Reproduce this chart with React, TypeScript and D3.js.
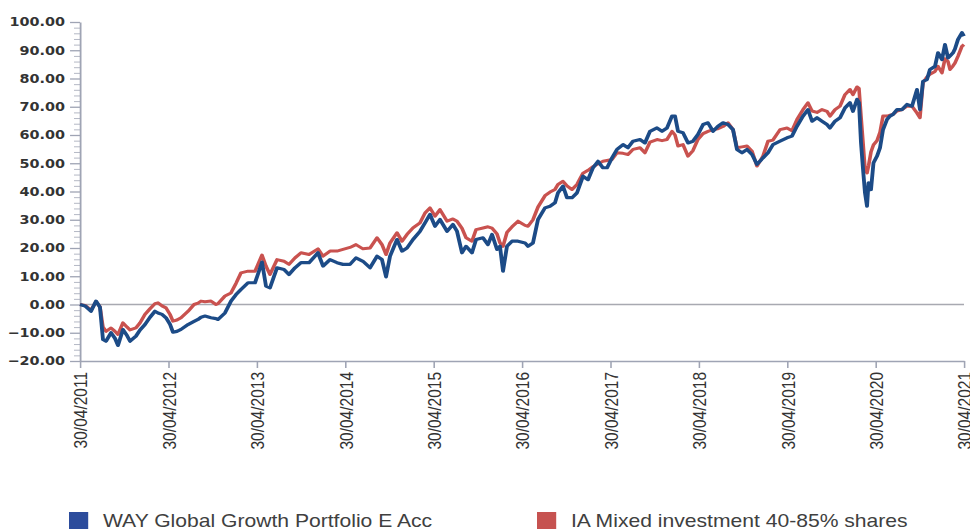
import React, { useEffect, useRef } from 'react';
import * as d3 from 'd3';

// dates as decimal years (30/04/2011 = 2011.33)
const dates = [
  2011.330, 2011.387, 2011.454, 2011.511, 2011.556, 2011.590, 2011.624, 2011.681, 2011.726, 2011.760,
  2011.816, 2011.862, 2011.896, 2011.963, 2012.009, 2012.065, 2012.122, 2012.178, 2012.212, 2012.258,
  2012.303, 2012.348, 2012.382, 2012.427, 2012.473, 2012.552, 2012.620, 2012.665, 2012.699, 2012.744,
  2012.812, 2012.869, 2012.891, 2012.970, 2013.038, 2013.095, 2013.151, 2013.231, 2013.310, 2013.389,
  2013.434, 2013.479, 2013.559, 2013.638, 2013.694, 2013.762, 2013.830, 2013.921, 2014.022, 2014.079,
  2014.158, 2014.237, 2014.305, 2014.384, 2014.452, 2014.531, 2014.611, 2014.690, 2014.746, 2014.792,
  2014.837, 2014.916, 2014.973, 2015.029, 2015.097, 2015.176, 2015.233, 2015.289, 2015.346, 2015.402,
  2015.482, 2015.549, 2015.595, 2015.651, 2015.697, 2015.764, 2015.810, 2015.889, 2015.945, 2015.991,
  2016.047, 2016.081, 2016.115, 2016.160, 2016.217, 2016.285, 2016.364, 2016.398, 2016.454, 2016.511,
  2016.590, 2016.647, 2016.703, 2016.737, 2016.794, 2016.839, 2016.896, 2016.952, 2017.020, 2017.077,
  2017.133, 2017.190, 2017.246, 2017.292, 2017.348, 2017.405, 2017.473, 2017.529, 2017.586, 2017.665,
  2017.721, 2017.778, 2017.857, 2017.914, 2017.970, 2018.027, 2018.061, 2018.095, 2018.151, 2018.208,
  2018.264, 2018.321, 2018.378, 2018.434, 2018.491, 2018.547, 2018.604, 2018.660, 2018.717, 2018.762,
  2018.819, 2018.875, 2018.932, 2018.988, 2019.056, 2019.113, 2019.169, 2019.249, 2019.328, 2019.384,
  2019.441, 2019.509, 2019.565, 2019.611, 2019.667, 2019.724, 2019.780, 2019.814, 2019.871, 2019.927,
  2019.984, 2020.040, 2020.074, 2020.120, 2020.142, 2020.165, 2020.188, 2020.210, 2020.233, 2020.250,
  2020.278, 2020.306, 2020.346, 2020.380, 2020.414, 2020.459, 2020.493, 2020.527, 2020.572, 2020.629,
  2020.685, 2020.742, 2020.798, 2020.832, 2020.866, 2020.911, 2020.945, 2021.002, 2021.036, 2021.081,
  2021.115, 2021.149, 2021.172, 2021.206, 2021.228, 2021.262, 2021.307, 2021.330,
];

// WAY Global Growth Portfolio E Acc, cumulative % growth
const wayValues = [
  0, -0.5, -2.4, 1.2, -1.0, -12.4, -13, -10, -12, -14.5,
  -8.9, -11, -13, -11.2, -9, -7.1, -4.5, -2.4, -3.0, -3.5,
  -4.7, -7, -9.8, -9.5, -8.8, -7.1, -6, -5.3, -4.5, -4.1,
  -4.7, -5.0, -5.3, -3, 1.2, 3.5, 5.3, 7.7, 7.7, 15.0,
  6.5, 5.9, 13, 12.4, 10.6, 13, 14.8, 14.8, 18.3, 13.6,
  15.9, 14.8, 14.2, 14.2, 16.5, 15.3, 13, 17.1, 15.9, 9.8,
  17.1, 23, 18.9, 20, 23, 25.9, 28.9, 31.9, 27.7, 30.1,
  25.9, 28.3, 25.9, 18.3, 20.6, 18.3, 23, 23.6, 21.2, 24.8,
  19.5, 20.6, 11.8, 20.6, 22.4, 22.4, 21.8, 20.6, 21.8, 30.1,
  34.2, 34.8, 36, 39.5, 41.9, 37.8, 37.8, 39.5, 45.4, 44.2,
  48.4, 50.7, 48.4, 48.4, 51.9, 54.9, 56.6, 55.5, 57.8, 58.4,
  57.2, 61.3, 62.5, 61.3, 62.5, 66.7, 66.7, 61.3, 60.8, 57.2,
  57.8, 60.2, 63.7, 64.3, 61.3, 63.1, 64.3, 63.7, 61.9, 54.9,
  53.7, 54.9, 53.1, 49.6, 51.9, 53.7, 56.6, 57.8, 59.0, 59.6,
  63.1, 66.7, 69.0, 64.9, 66.1, 64.9, 63.7, 62.5, 64.9, 66.1,
  69.6, 71.4, 68.4, 72.6, 71.4, 57.2, 47.8, 39.5, 34.8, 43.1,
  40.7, 50.1, 52.5, 55.5, 61.9, 65.5, 66.7, 67.3, 69.0, 69.0,
  70.8, 70.2, 76.1, 69.0, 79.0, 79.6, 83.2, 84.3, 89.1, 86.7,
  92.0, 87.3, 88, 89.1, 90.5, 93.8, 96.2, 95.0,
];

// IA Mixed investment 40-85% shares, cumulative % growth
const iaValues = [
  0, -0.3, -2.0, 1.0, -0.8, -8.0, -9.5, -8.3, -9.5, -10.6,
  -6.5, -8, -9, -8.3, -6.5, -3.5, -1.5, 0.3, 0.6, -0.5,
  -1.2, -3.5, -5.9, -5.5, -4.7, -2.4, 0, 0.5, 1.2, 1.0,
  1.2, 0, 0.3, 3, 4.1, 7.5, 11.2, 11.8, 11.8, 17.5,
  13.6, 10.6, 15.9, 15.3, 14.2, 16.5, 18.3, 17.7, 19.7, 17.1,
  18.9, 18.9, 19.5, 20.2, 21.2, 19.7, 20, 23.6, 21.2, 17.7,
  21.8, 25.4, 22.4, 24.8, 27.1, 28.9, 32.4, 34.2, 31.3, 33.6,
  29.5, 30.3, 29.5, 27, 23.6, 22.4, 26.5, 27.1, 27.5, 27.0,
  25, 21.8, 20.6, 25.5, 27.5, 29.5, 28, 27.7, 30, 34.5,
  38.5, 39.8, 40.7, 42.5, 43.6, 42, 40.7, 42.5, 46.5, 47.5,
  48.8, 49.8, 50.7, 51, 51.3, 53.7, 53.5, 53.1, 54.9, 55.5,
  53.7, 57.5, 58.4, 58.0, 58.4, 61.3, 60, 56.1, 56.6, 52.5,
  54.5, 58.5, 60.5, 61.3, 61.9, 62.2, 63.0, 64.3, 61.9, 55.5,
  55.8, 56.1, 54.3, 49.0, 52.5, 57.8, 58.2, 61.9, 62.5, 61.5,
  65.5, 69.0, 71.4, 68.5, 68.0, 69.0, 68.4, 66.7, 69.0, 70.2,
  74.3, 76.1, 74.3, 77.0, 76.5, 66.7, 57.2, 48, 46.6, 49.0,
  54, 56.5, 58, 61, 66.7, 66.7, 67, 67.3, 68.5, 69.0,
  70.2, 70.2, 67.8, 66.1, 78.5, 80.5, 81.5, 82.5, 84.3, 82.0,
  87, 86, 83.2, 84.5, 85.5, 87.9, 91.4, 92.0,
];

const yTicks = [-20, -10, 0, 10, 20, 30, 40, 50, 60, 70, 80, 90, 100];
const xTickDates = [2011.33, 2012.33, 2013.33, 2014.33, 2015.33, 2016.33, 2017.33, 2018.33, 2019.33, 2020.33, 2021.33];
const xTickLabels = ['30/04/2011', '30/04/2012', '30/04/2013', '30/04/2014', '30/04/2015', '30/04/2016',
  '30/04/2017', '30/04/2018', '30/04/2019', '30/04/2020', '30/04/2021'];
const seriesNames = ['WAY Global Growth Portfolio E Acc', 'IA Mixed investment 40-85% shares'];

const WIDTH = 970;
const HEIGHT = 529;
// the original image is stretched sideways, so draw in a narrower box and let the svg stretch it
const STRETCH = 1.2;
const AXIS_COLOR = '#9fa4b4';

const App = () => {
  const svgRef = useRef<SVGSVGElement>(null);

  useEffect(() => {
    const svg = d3.select(svgRef.current);
    svg.selectAll('*').remove();

    const left = 80 / STRETCH;
    const right = 964 / STRETCH;

    const x = d3.scaleLinear()
      .domain([xTickDates[0], xTickDates[xTickDates.length - 1]])
      .range([left, right]);
    const y = d3.scaleLinear()
      .domain([-20, 100])
      .range([361, 22]);

    // zero line
    svg.append('line')
      .attr('x1', left).attr('x2', right)
      .attr('y1', y(0)).attr('y2', y(0))
      .attr('stroke', '#a8a9b1')
      .attr('stroke-width', 1.4);

    // minor y ticks every 2
    const minor = d3.range(-20, 101, 2).filter(v => v % 10 !== 0);
    svg.append('g')
      .attr('transform', `translate(${left},0)`)
      .call(d3.axisLeft(y).tickValues(minor).tickSize(5).tickFormat(() => ''))
      .call(g => g.select('.domain').remove())
      .call(g => g.selectAll('line').attr('stroke', '#b4b8c4'));

    // y axis
    const yAxis = svg.append('g')
      .attr('transform', `translate(${left},0)`)
      .call(d3.axisLeft(y).tickValues(yTicks).tickSize(8.3).tickPadding(4.2).tickFormat(d3.format('.2f')).tickSizeOuter(0));
    yAxis.select('.domain').attr('stroke', AXIS_COLOR).attr('stroke-width', 1.5);
    yAxis.selectAll('line').attr('stroke', AXIS_COLOR).attr('stroke-width', 1.3);
    yAxis.selectAll('text')
      .attr('font-family', '"DejaVu Sans", Verdana, sans-serif')
      .attr('font-size', 12)
      .attr('font-weight', 'bold')
      .attr('fill', '#333');

    // x axis
    const xAxis = svg.append('g')
      .attr('transform', `translate(0,${y(-20)})`)
      .call(d3.axisBottom(x).tickValues(xTickDates).tickSize(7).tickSizeOuter(0)
        .tickFormat((d, i) => xTickLabels[i]));
    xAxis.select('.domain').attr('stroke', AXIS_COLOR).attr('stroke-width', 1.5);
    xAxis.selectAll('line').attr('stroke', AXIS_COLOR).attr('stroke-width', 1.3);
    xAxis.selectAll('text')
      .attr('transform', 'rotate(-90)')
      .attr('text-anchor', 'end')
      .attr('x', -11)
      .attr('y', 0)
      .attr('dy', '0.36em')
      .attr('font-family', '"Liberation Sans", Arial, sans-serif')
      .attr('font-size', 15.5)
      .attr('fill', '#333');

    const line = d3.line<number>()
      .x((d, i) => x(dates[i]))
      .y(d => y(d));

    svg.append('path')
      .datum(iaValues)
      .attr('d', line)
      .attr('fill', 'none')
      .attr('stroke', '#c9524f')
      .attr('stroke-width', 3)
      .attr('stroke-linejoin', 'round');

    svg.append('path')
      .datum(wayValues)
      .attr('d', line)
      .attr('fill', 'none')
      .attr('stroke', '#1c4b87')
      .attr('stroke-width', 3.2)
      .attr('stroke-linejoin', 'round');

    // legend
    const legend = [
      { name: seriesNames[0], color: '#2c4c9c', x: 69 },
      { name: seriesNames[1], color: '#c65250', x: 537 },
    ];
    const lg = svg.append('g');
    legend.forEach(item => {
      lg.append('rect')
        .attr('x', item.x / STRETCH)
        .attr('y', 512)
        .attr('width', 16)
        .attr('height', 18)
        .attr('fill', item.color);
      lg.append('text')
        .attr('x', (item.x + 34) / STRETCH)
        .attr('y', 527)
        .attr('font-family', '"Liberation Sans", Arial, sans-serif')
        .attr('font-size', 17.6)
        .attr('fill', '#404040')
        .text(item.name);
    });
  }, []);

  return (
    <svg
      ref={svgRef}
      width={WIDTH}
      height={HEIGHT}
      viewBox={`0 0 ${WIDTH / STRETCH} ${HEIGHT}`}
      preserveAspectRatio="none"
      style={{ position: 'absolute', left: 0, top: 0, display: 'block', background: '#fff' }}
    />
  );
};

export default App;
